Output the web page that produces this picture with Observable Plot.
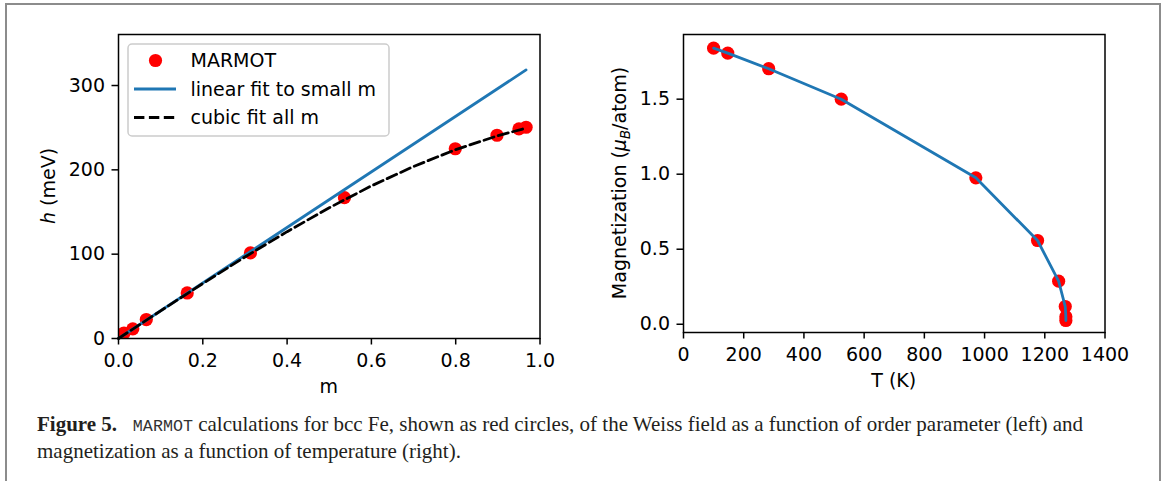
<!DOCTYPE html>
<html><head><meta charset="utf-8">
<script src="https://cdn.jsdelivr.net/npm/d3@7"></script>
<script src="https://cdn.jsdelivr.net/npm/@observablehq/plot@0.6"></script>
<style>
html,body{margin:0;padding:0;background:#fff;}
#page{position:relative;width:1165px;height:481px;overflow:hidden;background:#fff;}
.bl{position:absolute;background:#8c8c8c;}
#left,#right{position:absolute;top:0;}
#left{left:0px;} #right{left:580px;}
#caption{position:absolute;left:37px;top:412px;font-family:"Liberation Serif",serif;font-size:21px;line-height:24px;color:#231f20;white-space:nowrap;}
#caption b{font-weight:bold;}
#caption .mono{font-family:"Liberation Mono",monospace;font-size:16.7px;color:#333;}
svg{overflow:visible;}
</style></head><body>
<div id="page">
  <div class="bl" style="left:5px;top:3px;width:2px;height:478px"></div>
  <div class="bl" style="left:5px;top:3px;width:1156px;height:2px"></div>
  <div class="bl" style="left:1159px;top:3px;width:2px;height:478px"></div>
  <div id="left"></div>
  <div id="right"></div>
  <div id="caption"></div>
</div>
<script>
// ---------- data ----------
// Left panel: Weiss field h vs order parameter m
const marmotM = [0.013, 0.034, 0.066, 0.163, 0.313, 0.536, 0.799, 0.898, 0.950, 0.967];
const marmotH = [6.5, 11.5, 22.5, 54, 101.5, 167, 225, 241, 248.5, 250.5];
const linearM = [0, 0.967];
const linearH = [0, 318.5];
const cubicM = [0, 0.1, 0.2, 0.3, 0.4, 0.5, 0.6, 0.7, 0.8, 0.9, 0.967];
const cubicH = [0, 32.8, 65.2, 96.7, 126.7, 155, 181, 204, 224, 240.5, 249.5];
const mTicks = [0, 0.2, 0.4, 0.6, 0.8, 1.0];
const hTicks = [0, 100, 200, 300];
// Right panel: magnetization vs temperature
const tempK = [100, 147, 283, 524, 971, 1176, 1246, 1268, 1270, 1270];
const magnet = [1.84, 1.807, 1.703, 1.50, 0.976, 0.558, 0.287, 0.118, 0.05, 0.025];
const tTicks = [0, 200, 400, 600, 800, 1000, 1200, 1400];
const magTicks = [0.0, 0.5, 1.0, 1.5];
const legendLabels = ["MARMOT", "linear fit to small m", "cubic fit all m"];

// ---------- styles ----------
const FONT = "DejaVu Sans";
const FS = 19;
const RED = "#ff0000", BLUE = "#1f77b4";
const LW = 2.8, DASH = "10.4,4.5";

const toRows = (xs, ys, kx, ky) => xs.map((v, i) => ({[kx]: v, [ky]: ys[i]}));
const marmot = toRows(marmotM, marmotH, "m", "h");
const linear = toRows(linearM, linearH, "m", "h");
const cubic = toRows(cubicM, cubicH, "m", "h");
const magRows = toRows(tempK, magnet, "T", "M");

const baseStyle = {fontFamily: FONT, fontSize: FS + "px", background: "transparent", color: "#000", overflow: "visible"};

const L = {width: 580, height: 400, marginLeft: 118, marginRight: 40.5, marginTop: 34, marginBottom: 62};
const leftPlot = Plot.plot({
  ...L,
  style: baseStyle,
  x: {domain: [0, 1]},
  y: {domain: [0, 360.5]},
  marks: [
    Plot.dot(marmot, {x: "m", y: "h", r: 6.6, fill: RED, stroke: "none", clip: true}),
    Plot.line(linear, {x: "m", y: "h", stroke: BLUE, strokeWidth: LW}),
    Plot.line(cubic, {x: "m", y: "h", stroke: "#000", strokeWidth: LW, strokeDasharray: DASH}),
    Plot.frame({stroke: "#000", strokeWidth: 1.5}),
    Plot.axisX({ticks: mTicks, tickFormat: d => d.toFixed(1), tickSize: 6.5, tickPadding: 8, strokeWidth: 1.5, label: null, fontSize: FS}),
    Plot.axisY({ticks: hTicks, tickFormat: d => String(d), tickSize: 6.5, tickPadding: 7, strokeWidth: 1.5, label: null, fontSize: FS})
  ]
});
document.getElementById("left").appendChild(leftPlot);

const R = {width: 580, height: 400, marginLeft: 103, marginRight: 55.5, marginTop: 34, marginBottom: 68};
const rightPlot = Plot.plot({
  ...R,
  style: baseStyle,
  x: {domain: [0, 1400]},
  y: {domain: [-0.055, 1.931]},
  marks: [
    Plot.dot(magRows, {x: "T", y: "M", r: 6.6, fill: RED, stroke: "none"}),
    Plot.line(magRows, {x: "T", y: "M", stroke: BLUE, strokeWidth: LW}),
    Plot.frame({stroke: "#000", strokeWidth: 1.5}),
    Plot.axisX({ticks: tTicks, tickFormat: d => String(d), tickSize: 6.5, tickPadding: 8, strokeWidth: 1.5, label: null, fontSize: FS}),
    Plot.axisY({ticks: magTicks, tickFormat: d => d.toFixed(1), tickSize: 6.5, tickPadding: 7, strokeWidth: 1.5, label: null, fontSize: FS})
  ]
});
document.getElementById("right").appendChild(rightPlot);

// ---------- axis titles ----------
function addTitles(svgNode, M, xParts, yParts, yOff) {
  const svg = d3.select(svgNode);
  const fx0 = M.marginLeft, fx1 = M.width - M.marginRight;
  const fy0 = M.marginTop, fy1 = M.height - M.marginBottom;
  const xt = svg.append("text")
    .attr("x", (fx0 + fx1) / 2).attr("y", fy1 + 54.5)
    .attr("text-anchor", "middle").attr("font-family", FONT).attr("font-size", FS).attr("fill", "#000");
  xParts.forEach(p => xt.append("tspan").text(p.t).attr("font-style", p.i ? "italic" : null));
  const yt = svg.append("text")
    .attr("transform", `translate(${fx0 - yOff},${(fy0 + fy1) / 2}) rotate(-90)`)
    .attr("text-anchor", "middle").attr("font-family", FONT).attr("font-size", FS).attr("fill", "#000");
  yParts.forEach(p => {
    const ts = yt.append("tspan").text(p.t);
    if (p.i) ts.attr("font-style", "italic");
    if (p.sub) ts.attr("font-size", FS * 0.7).attr("dy", FS * 0.2);
    if (p.unsub) ts.attr("dy", -FS * 0.2);
  });
}
addTitles(leftPlot, L, [{t: "m"}], [{t: "h", i: true}, {t: " (meV)"}], 63);
addTitles(rightPlot, R, [{t: "T (K)"}],
  [{t: "Magnetization ("}, {t: "μ", i: true}, {t: "B", i: true, sub: true}, {t: "/atom)", unsub: true}], 57);

// ---------- legend (left panel) ----------
{
  const svg = d3.select(leftPlot);
  const g = svg.append("g").attr("text-anchor", "start");
  g.append("rect").attr("x", 128).attr("y", 44).attr("width", 261).attr("height", 92).attr("rx", 4)
    .attr("fill", "#fff").attr("fill-opacity", 0.8).attr("stroke", "#cccccc").attr("stroke-width", 1.5);
  const rows = [60.5, 89, 117.5];
  g.append("circle").attr("cx", 155.5).attr("cy", rows[0]).attr("r", 6.6).attr("fill", RED);
  g.append("line").attr("x1", 134).attr("x2", 176).attr("y1", rows[1]).attr("y2", rows[1])
    .attr("stroke", BLUE).attr("stroke-width", LW);
  g.append("line").attr("x1", 134).attr("x2", 176).attr("y1", rows[2]).attr("y2", rows[2])
    .attr("stroke", "#000").attr("stroke-width", LW).attr("stroke-dasharray", DASH);
  legendLabels.forEach((t, i) => {
    g.append("text").attr("x", 190.5).attr("y", rows[i]).attr("dy", "0.36em").attr("text-anchor", "start")
      .attr("font-family", FONT).attr("font-size", FS).attr("fill", "#000").text(t);
  });
}

// ---------- caption ----------
document.getElementById("caption").innerHTML =
  '<b>Figure 5.</b>&nbsp;&nbsp; <span class="mono">MARMOT</span> calculations for bcc Fe, shown as red circles, of the Weiss field as a function of order parameter (left) and<br>' +
  'magnetization as a function of temperature (right).';
</script>
</body></html>
